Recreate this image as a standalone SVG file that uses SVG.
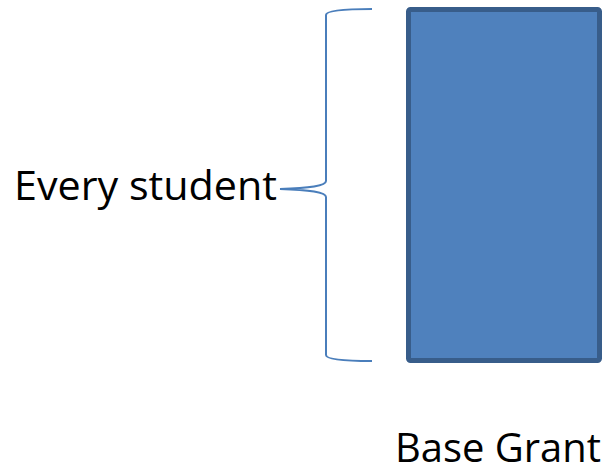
<svg xmlns="http://www.w3.org/2000/svg" width="608" height="467" viewBox="0 0 608 467">
<style>
.lbl{font-family:"Open Sans","Liberation Sans",sans-serif;font-size:40px;fill:#000}
.brace{fill:none;stroke:#4A7EBB;stroke-width:2}
</style>
<rect width="608" height="467" fill="#fff"/>
<g id="connectors">
<path class="brace" d="M372,9 C340,9 326,11 326,15 L326,181 C326,186 310,188 280,189 C310,190 326,192 326,197 L326,355 C326,359 340,361 372,361"/>
</g>
<g id="base-grant">
<rect x="408.5" y="9.5" width="191" height="351" rx="2" fill="#4F81BD" stroke="#385D8A" stroke-width="5"/>
<text class="lbl" x="395" y="462" font-size="39" textLength="206" lengthAdjust="spacingAndGlyphs">Base Grant</text>
</g>
<g id="every-student">
<text class="lbl" x="14" y="200" textLength="263" lengthAdjust="spacingAndGlyphs">Every student</text>
</g>
</svg>
